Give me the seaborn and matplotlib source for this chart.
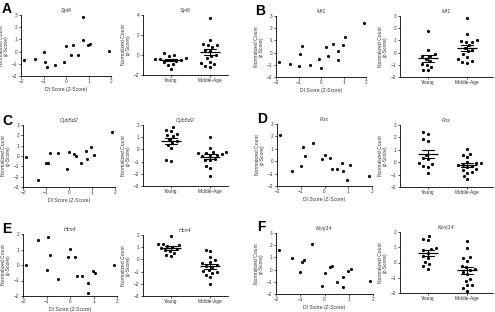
import numpy as np
import pandas as pd
import matplotlib
matplotlib.use('Agg')
import matplotlib.pyplot as plt
import seaborn as sns

# ---------------- data ----------------
genes = ["Syt6", "Mr1", "Cyb5d2", "Fos", "Hcn4", "Kcnj14"]
panel_letters = ["A", "B", "C", "D", "E", "F"]
groups = ["Young", "Middle-Age"]

di_score = [-1.87, -1.36, -0.99, -0.92, -0.84, -0.50, -0.10, 0.00,
            0.22, 0.30, 0.52, 0.75, 0.77, 0.96, 1.08, 1.89]

syt6_di = [-0.68, -0.60, -0.05, -0.85, -1.23, -1.07, -0.82, 0.46,
           -0.27, 0.57, -0.27, 2.81, 0.96, 0.52, 0.60, 0.08]
mr1_di = [-0.73, -0.95, -1.08, -0.11, 0.54, -1.03, -0.49, -1.24,
          0.43, -0.30, 0.68, 0.11, -0.57, 0.62, 1.24, 2.46]
cyb5d2_di = [-0.05, -2.29, -0.70, -0.70, 0.31, 0.31, -1.25, 0.37,
             0.24, -0.02, -0.63, 0.44, -0.28, 0.86, 0.05, 2.29]
fos_di = [2.09, -0.79, -0.39, 1.17, 0.42, 1.49, 0.20, 0.47,
          0.28, -0.66, -0.66, -0.17, -0.82, -1.52, -0.31, -1.19]
hcn4_di = [-0.02, 1.63, -0.33, 1.80, 0.65, -0.91, 0.50, 1.02,
           0.50, -0.70, -0.72, -1.17, -1.83, -0.37, -0.50, 0.00]
kcnj14_di = [1.63, 0.95, -0.20, 0.62, 0.81, 2.07, -1.32, -0.28,
             0.21, 0.32, -1.02, -0.58, -1.45, -0.11, 0.05, -0.96]

syt6_young = [0.17, 0.00, -0.07, -0.33, -0.40, -0.43, -0.50, -0.50,
              -0.60, -0.67, -0.93, -1.00, -1.40]
syt6_middle = [3.67, 1.50, 1.07, 1.00, 1.00, 0.83, 0.50, 0.40,
               0.00, -0.07, -0.33, -0.67, -0.93, -1.07, -0.83, -1.17]
mr1_young = [1.77, 0.24, -0.10, -0.25, -0.30, -0.50, -0.70, -0.90,
             -1.00, -1.20, -1.40, -1.45]
mr1_middle = [2.80, 1.55, 1.05, 0.95, 0.90, 0.90, 0.60, 0.40,
              0.25, 0.10, -0.10, -0.35, -0.55, -0.65, -0.75, -0.85]
cyb5d2_young = [1.85, 1.60, 1.50, 1.30, 1.20, 1.10, 0.85, 0.70,
                0.55, 0.40, 0.10, -0.95, -0.90]
cyb5d2_middle = [1.05, 0.10, -0.20, -0.25, -0.30, -0.30, -0.35, -0.45,
                 -0.50, -0.55, -0.80, -0.90, -0.85, -1.35, -1.55, -2.15]
fos_young = [2.45, 2.25, 1.85, 1.70, 0.60, 0.32, 0.24, -0.09,
             -0.17, -0.28, -0.36, -0.85]
fos_middle = [1.05, 0.70, 0.55, 0.40, 0.00, -0.05, -0.10, -0.20, -0.25,
              -0.30, -0.40, -0.55, -0.65, -0.75, -0.85, -1.10, -1.35]
hcn4_young = [1.90, 1.30, 1.25, 1.20, 1.10, 1.05, 0.95, 0.85,
              0.75, 0.70, 0.50, 0.35, 0.25]
hcn4_middle = [0.80, 0.65, 0.20, -0.05, -0.20, -0.30, -0.45, -0.50,
               -0.60, -0.85, -0.95, -1.00, -1.10, -1.25, -1.45, -2.00]
kcnj14_young = [1.75, 1.55, 1.45, 0.95, 0.90, 0.80, 0.65, 0.45,
                0.30, 0.05, -0.10, -0.25, -0.40]
kcnj14_middle = [1.40, 0.95, 0.35, 0.30, 0.10, -0.20, -0.30, -0.40, -0.50,
                 -0.60, -0.75, -1.05, -1.20, -1.45, -1.50, -1.70, -1.90]

di_values = [syt6_di, mr1_di, cyb5d2_di, fos_di, hcn4_di, kcnj14_di]
young_values = [syt6_young, mr1_young, cyb5d2_young, fos_young, hcn4_young, kcnj14_young]
middle_values = [syt6_middle, mr1_middle, cyb5d2_middle, fos_middle, hcn4_middle, kcnj14_middle]

scatter_ylims = [(-2, 3), (-2, 3), (-3, 3), (-2, 3), (-2, 2), (-2, 3)]
strip_ylims = [(-2, 4), (-2, 3), (-3, 2), (-2, 3), (-3, 2), (-2, 2)]
strip_ystep = [2, 1, 1, 1, 1, 1]

# ---------------- layout (pixels: left, top, right, bottom) ----------------
W, H = 495, 312
scatter_boxes = [(21, 15, 111, 76), (276, 16, 366, 77),
                 (23, 125, 115, 187), (277, 124, 372, 186),
                 (23, 234, 117, 296), (276, 233, 373, 294)]
strip_boxes = [(143, 15, 228, 75), (400, 16, 493, 77),
               (143, 125, 228, 186), (400, 125, 493, 187),
               (143, 235, 228, 296), (400, 232, 493, 293)]
letter_pos = [(2, 2), (255, 4), (2, 114), (257, 112), (2, 222), (257, 220)]

sns.set_style("ticks")
plt.rcParams['font.family'] = ['Liberation Sans', 'DejaVu Sans']

fig = plt.figure(figsize=(W / 100, H / 100), dpi=100)
text_col = '#333333'
tick_fs = 3.4


def make_ax(box):
    l, t, r, b = box
    ax = fig.add_axes([l / W, 1 - b / H, (r - l) / W, (b - t) / H])
    for s in ['top', 'right']:
        ax.spines[s].set_visible(False)
    for s in ['left', 'bottom']:
        ax.spines[s].set_linewidth(0.6)
        ax.spines[s].set_color('black')
    ax.tick_params(axis='both', labelsize=tick_fs, length=1.5, width=0.5,
                   pad=1, colors='black', labelcolor=text_col)
    return ax


for i, gene in enumerate(genes):
    # scatter vs DI score
    ax = make_ax(scatter_boxes[i])
    sns.scatterplot(x=di_score, y=di_values[i], color='black', s=5,
                    linewidth=0, ax=ax)
    ax.set_xlim(-2, 2)
    ax.set_xticks([-2, -1, 0, 1, 2])
    lo, hi = scatter_ylims[i]
    ax.set_ylim(lo, hi)
    ax.set_yticks(np.arange(lo, hi + 1, 1))
    ax.set_title(gene, fontsize=3.9, style='italic', color=text_col, pad=2)
    ax.set_xlabel("DI Score (Z-Score)", fontsize=3.6, color=text_col, labelpad=2)
    ax.set_ylabel("Normalized Count\n(z-Score)", fontsize=3.6, color=text_col,
                  labelpad=2.5, linespacing=1.0)

    # group comparison
    ax2 = make_ax(strip_boxes[i])
    df = pd.DataFrame({
        'group': ['Young'] * len(young_values[i]) + ['Middle-Age'] * len(middle_values[i]),
        'value': list(young_values[i]) + list(middle_values[i]),
    })
    # transparent wide edge widens the swarm spacing without enlarging dots
    sns.swarmplot(data=df, x='group', y='value', order=groups, color='black',
                  size=2.3, linewidth=1.1, edgecolor=(0, 0, 0, 0), ax=ax2)
    sns.pointplot(data=df, x='group', y='value', order=groups, errorbar='se',
                  color='black', linestyle='none', marker='_', markersize=15,
                  markeredgewidth=0.9, capsize=0.3,
                  err_kws={'linewidth': 0.8}, ax=ax2)
    lo, hi = strip_ylims[i]
    ax2.set_ylim(lo, hi)
    ax2.set_yticks(np.arange(lo, hi + 0.5, strip_ystep[i]))
    if i % 2 == 0:
        ax2.set_xlim(-0.7, 1.45)
    else:
        ax2.set_xlim(-0.7, 1.65)
    ax2.set_title(gene, fontsize=3.9, style='italic', color=text_col, pad=2)
    ax2.set_xlabel("")
    ax2.set_ylabel("Normalized Count\n(z-Score)", fontsize=3.6, color=text_col,
                   labelpad=2.5, linespacing=1.0)

    # panel letter
    lx, ly = letter_pos[i]
    fig.text(lx / W, 1 - ly / H, panel_letters[i], fontsize=10,
             fontweight='bold', ha='left', va='top', color='black')

fig.savefig("out.png", dpi=100)
